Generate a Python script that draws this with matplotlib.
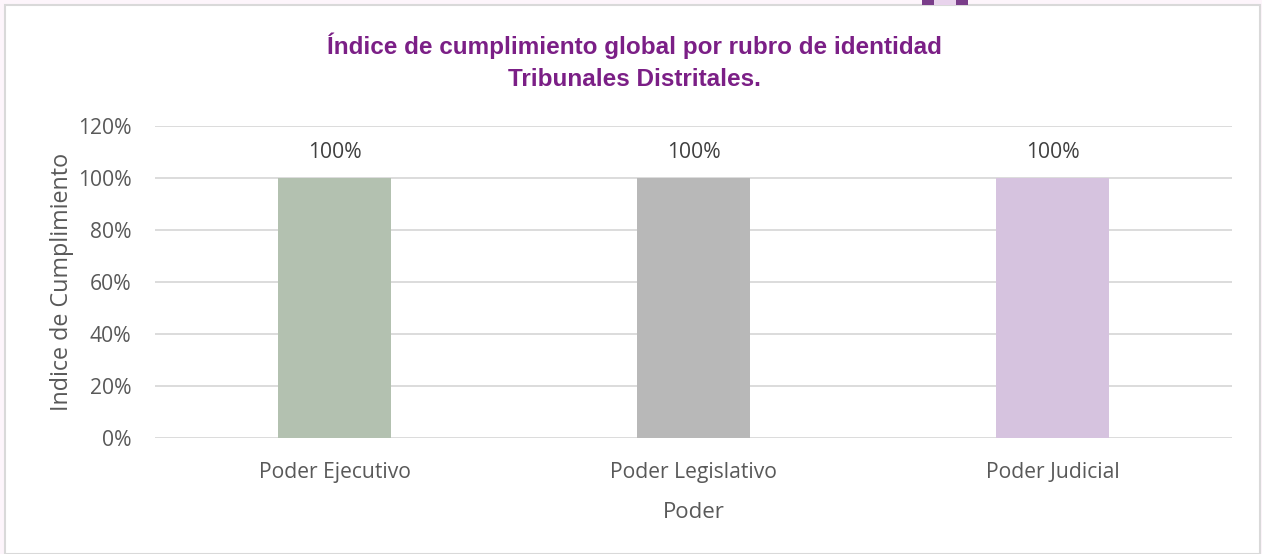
import matplotlib
matplotlib.use("Agg")
import matplotlib.pyplot as plt
from matplotlib.patches import Rectangle
from matplotlib.ticker import PercentFormatter

categories = ["Poder Ejecutivo", "Poder Legislativo", "Poder Judicial"]
values = [1.0, 1.0, 1.0]
colors = ["#B3C1B0", "#B8B8B8", "#D6C3DF"]
yticks = [0, 0.2, 0.4, 0.6, 0.8, 1.0, 1.2]

title = "Índice de cumplimiento global por rubro de identidad\nTribunales Distritales."
ylabel = "Indice de Cumplimiento"
xlabel = "Poder"

plt.rcParams['font.family'] = ['Open Sans', 'DejaVu Sans']

fig = plt.figure(figsize=(12.62, 5.54), dpi=100)
fig.patch.set_facecolor("#FDF5FB")
# chart frame
fig.patches.append(Rectangle((5/1262, 0), 1 - 7/1262, 1 - 5/554, transform=fig.transFigure,
                             facecolor="white", edgecolor="#D9D9D9", linewidth=1.5, zorder=-5))
# cropped logo fragment at top
fig.patches.append(Rectangle((922/1262, 1 - 5/554), 46/1262, 5/554, transform=fig.transFigure,
                             facecolor="#E8D3EC", edgecolor="none", zorder=-4))
fig.patches.append(Rectangle((922/1262, 1 - 5/554), 12/1262, 5/554, transform=fig.transFigure,
                             facecolor="#7A3D8A", edgecolor="none", zorder=-3))
fig.patches.append(Rectangle((956/1262, 1 - 5/554), 12/1262, 5/554, transform=fig.transFigure,
                             facecolor="#7A3D8A", edgecolor="none", zorder=-3))

ax = fig.add_axes([155/1262, 1 - 438/554, (1232 - 155)/1262, (438 - 126)/554])
ax.set_facecolor("none")
x = range(len(categories))
bars = ax.bar(x, values, width=0.315, color=colors, zorder=3)
ax.set_xlim(-0.5, len(categories) - 0.5)
ax.set_ylim(0, 1.2)
ax.set_yticks(yticks)
ax.yaxis.set_major_formatter(PercentFormatter(1.0, decimals=0))
ax.set_xticks(list(x))
ax.set_xticklabels(categories)
ax.grid(axis="y", color="#D9D9D9", linewidth=1.3, zorder=0)
for s in ax.spines.values():
    s.set_visible(False)
ax.tick_params(axis="both", length=0, labelsize=15.2, colors="#595959")
ax.tick_params(axis="x", pad=17)
ax.tick_params(axis="y", pad=17)

for xi, v in zip(x, values):
    ax.annotate(f"{v:.0%}", (xi, v), xytext=(0, 11), textcoords="offset points",
                ha="center", va="bottom", fontsize=15.2, color="#404040")

ax.set_ylabel(ylabel, fontsize=16.8, color="#595959", labelpad=3)
ax.set_xlabel(xlabel, fontsize=16, color="#595959", labelpad=14)

fig.text(634/1262, 1 - 62/554, title, ha="center", va="center", fontsize=17.5,
         fontweight="bold", color="#7B1F86", linespacing=1.5,
         family=["Liberation Sans", "DejaVu Sans"])

fig.savefig("out.png", dpi=100, facecolor=fig.get_facecolor())
